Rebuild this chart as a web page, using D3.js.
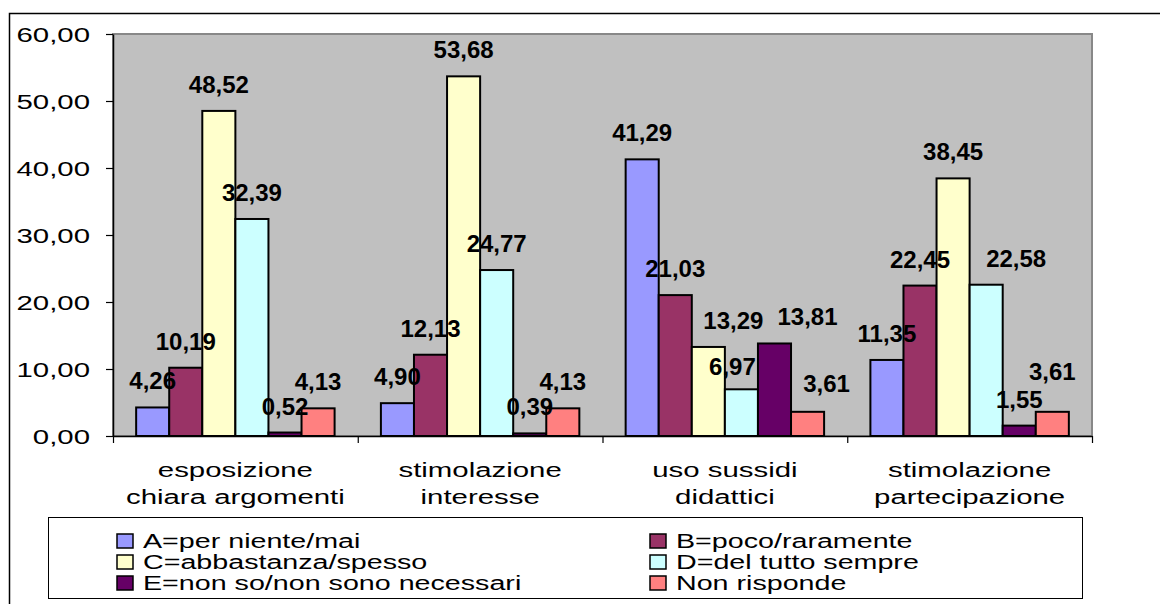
<!DOCTYPE html>
<html>
<head>
<meta charset="utf-8">
<script src="https://cdn.jsdelivr.net/npm/d3@7"></script>
<style>
  html, body { margin: 0; padding: 0; background: #fff; }
  svg { display: block; }
  .arial { font-family: "Liberation Sans", Arial, sans-serif; fill: #000; }
  .dlabel { font-family: "Liberation Sans", Arial, sans-serif; font-weight: bold; fill: #000; }
</style>
</head>
<body>
<script>
// ---- data ----
const categories = [
  ["esposizione", "chiara argomenti"],
  ["stimolazione", "interesse"],
  ["uso sussidi", "didattici"],
  ["stimolazione", "partecipazione"]
];
const seriesNames = [
  "A=per niente/mai",
  "B=poco/raramente",
  "C=abbastanza/spesso",
  "D=del tutto sempre",
  "E=non so/non sono necessari",
  "Non risponde"
];
const seriesColors = ["#9999FF", "#993366", "#FFFFCC", "#CCFFFF", "#660066", "#FF8080"];
const valuesA = [4.26, 4.90, 41.29, 11.35];
const valuesB = [10.19, 12.13, 21.03, 22.45];
const valuesC = [48.52, 53.68, 13.29, 38.45];
const valuesD = [32.39, 24.77, 6.97, 22.58];
const valuesE = [0.52, 0.39, 13.81, 1.55];
const valuesNR = [4.13, 4.13, 3.61, 3.61];
const yTicks = [0, 10, 20, 30, 40, 50, 60];

const seriesValues = [valuesA, valuesB, valuesC, valuesD, valuesE, valuesNR];

// ---- layout ----
const W = 1160, H = 604;
const plot = { left: 113, right: 1092, top: 34, bottom: 436 };
const SX = 1.47; // horizontal stretch of the text
// manual nudges of some data labels (category index, series index) -> [dx, dy]
const labelNudge = {
  "2-2": [25, 0], "2-3": [-9, 4], "2-4": [33, 0], "2-5": [19, -2],
  "3-3": [30, 0], "3-5": [0, -14]
};

const svg = d3.select("body").append("svg").attr("width", W).attr("height", H);

// outer chart border
svg.append("rect").attr("x", 9.5).attr("y", 13.5).attr("width", 1300).attr("height", 800)
  .attr("fill", "#fff").attr("stroke", "#000").attr("stroke-width", 1.5);

const x0 = d3.scaleBand().domain(d3.range(categories.length)).range([plot.left, plot.right]).paddingInner(0).paddingOuter(0);
const x1 = d3.scaleBand().domain(d3.range(seriesNames.length)).range([0, x0.bandwidth()]).paddingInner(0).paddingOuter(0.70);
const y = d3.scaleLinear().domain([0, 60]).range([plot.bottom, plot.top]);

// plot area
svg.append("rect").attr("x", plot.left).attr("y", plot.top)
  .attr("width", plot.right - plot.left).attr("height", plot.bottom - plot.top)
  .attr("fill", "#C0C0C0").attr("stroke", "#888").attr("stroke-width", 2);

// bars
const groups = svg.append("g").selectAll("g").data(categories).join("g")
  .attr("transform", (d, i) => `translate(${x0(i)},0)`);

groups.each(function (c, ci) {
  const g = d3.select(this);
  seriesValues.forEach((vals, si) => {
    const v = vals[ci];
    g.append("rect")
      .attr("x", x1(si)).attr("y", y(v))
      .attr("width", x1.bandwidth()).attr("height", y(0) - y(v))
      .attr("fill", seriesColors[si]).attr("stroke", "#000").attr("stroke-width", 2);
  });
});

// data labels (drawn after bars so they are on top)
groups.each(function (c, ci) {
  const g = d3.select(this);
  seriesValues.forEach((vals, si) => {
    const v = vals[ci];
    const n = labelNudge[ci + "-" + si] || [0, 0];
    g.append("text").attr("class", "dlabel")
      .attr("x", x1(si) + x1.bandwidth() / 2 + n[0]).attr("y", y(v) - 18 + n[1])
      .attr("text-anchor", "middle").attr("font-size", 24)
      .text(d3.format(".2f")(v).replace(".", ","));
  });
});

// y axis
const fmt = v => d3.format(".2f")(v).replace(".", ",");
const yAxis = svg.append("g").attr("transform", `translate(${plot.left},0)`)
  .call(d3.axisLeft(y).tickValues(yTicks).tickFormat(fmt).tickSize(7).tickSizeOuter(0));
yAxis.select(".domain").attr("stroke", "#000").attr("stroke-width", 1.5);
yAxis.selectAll(".tick line").attr("stroke", "#000").attr("stroke-width", 1.2);
yAxis.selectAll(".tick text")
  .attr("class", "arial").attr("x", 0).attr("dy", null)
  .attr("dominant-baseline", "central")
  .attr("font-size", 20).attr("text-anchor", "end")
  .attr("transform", `translate(-23,0) scale(${SX},1)`);

// x axis
const xAxis = svg.append("g").attr("transform", `translate(0,${plot.bottom})`)
  .call(d3.axisBottom(d3.scaleLinear().domain([0, categories.length]).range([plot.left, plot.right]))
    .tickValues(d3.range(categories.length + 1)).tickSize(7).tickSizeOuter(0).tickFormat(""));
xAxis.select(".domain").attr("stroke", "#000").attr("stroke-width", 1.5);
xAxis.selectAll(".tick line").attr("stroke", "#000").attr("stroke-width", 1.2);

// category labels
categories.forEach((lines, ci) => {
  const cx = x0(ci) + x0.bandwidth() / 2;
  lines.forEach((t, li) => {
    svg.append("text").attr("class", "arial")
      .attr("transform", `translate(${cx},${470 + li * 27}) scale(${SX},1)`)
      .attr("text-anchor", "middle").attr("dominant-baseline", "central")
      .attr("font-size", 20).text(t);
  });
});

// legend
const legend = { x: 48, y: 517, w: 1034, h: 81 };
svg.append("rect").attr("x", legend.x + 0.5).attr("y", legend.y + 0.5)
  .attr("width", legend.w).attr("height", legend.h)
  .attr("fill", "#fff").attr("stroke", "#000").attr("stroke-width", 1);
const colX = [117, 650];
const rowY = [541, 562, 583];
seriesNames.forEach((name, i) => {
  const cx = colX[i % 2], cy = rowY[Math.floor(i / 2)];
  svg.append("rect").attr("x", cx).attr("y", cy - 7).attr("width", 16).attr("height", 14)
    .attr("fill", seriesColors[i]).attr("stroke", "#000").attr("stroke-width", 1.5);
  svg.append("text").attr("class", "arial")
    .attr("transform", `translate(${cx + 26},${cy}) scale(${SX},1)`)
    .attr("dominant-baseline", "central").attr("font-size", 19.5).text(name);
});
</script>
</body>
</html>
